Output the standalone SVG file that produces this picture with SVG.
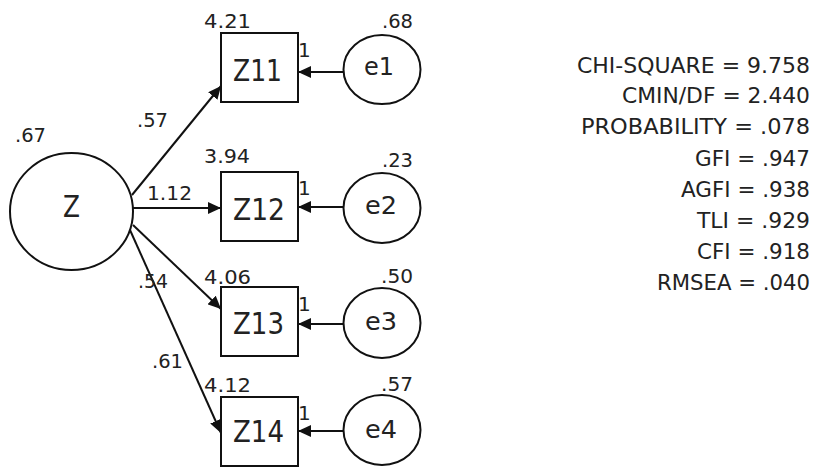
<svg xmlns="http://www.w3.org/2000/svg" width="820" height="467" viewBox="0 0 820 467">
<style>
  .shape { fill: #ffffff; stroke: #111111; stroke-width: 2; }
  .edge { fill: none; stroke: #111111; stroke-width: 2; }
  text { font-family: "DejaVu Sans", "Liberation Sans", sans-serif; fill: #222222; }
  .big { font-size: 31px; }
  .mid { font-size: 25px; }
  .sm { font-size: 20px; }
  .st { font-size: 21px; text-anchor: end; }
</style>
<defs>
  <marker id="arr" markerUnits="userSpaceOnUse" markerWidth="14" markerHeight="12" viewBox="0 0 14 12" refX="13" refY="6" orient="auto">
    <path d="M0,0 L13,6 L0,12 z" fill="#111111"/>
  </marker>
</defs>
<rect width="820" height="467" fill="#ffffff"/>

<g id="connectors">
  <line class="edge" x1="132" y1="195" x2="221" y2="86" marker-end="url(#arr)"/>
  <line class="edge" x1="133" y1="208" x2="221" y2="208" marker-end="url(#arr)"/>
  <line class="edge" x1="133" y1="225" x2="221" y2="309" marker-end="url(#arr)"/>
  <line class="edge" x1="130" y1="230" x2="221" y2="433" marker-end="url(#arr)"/>
  <line class="edge" x1="343" y1="72" x2="298" y2="72" marker-end="url(#arr)"/>
  <line class="edge" x1="343" y1="207" x2="298" y2="207" marker-end="url(#arr)"/>
  <line class="edge" x1="343" y1="324" x2="298" y2="324" marker-end="url(#arr)"/>
  <line class="edge" x1="343" y1="431" x2="298" y2="431" marker-end="url(#arr)"/>
  <text class="sm" x="137" y="127" textLength="31" lengthAdjust="spacingAndGlyphs">.57</text>
  <text class="sm" x="147" y="200" textLength="45" lengthAdjust="spacingAndGlyphs">1.12</text>
  <text class="sm" x="138" y="288" textLength="30" lengthAdjust="spacingAndGlyphs">.54</text>
  <text class="sm" x="152" y="368" textLength="31" lengthAdjust="spacingAndGlyphs">.61</text>
  <text class="sm" x="298" y="57">1</text>
  <text class="sm" x="298" y="195">1</text>
  <text class="sm" x="298" y="311">1</text>
  <text class="sm" x="298" y="420">1</text>
</g>

<g id="Z">
  <ellipse class="shape" cx="71.5" cy="211.5" rx="61.5" ry="58.5"/>
  <text class="big" x="63" y="217" textLength="17" lengthAdjust="spacingAndGlyphs">Z</text>
  <text class="sm" x="15" y="142" textLength="31" lengthAdjust="spacingAndGlyphs">.67</text>
</g>

<g id="Z11">
  <rect class="shape" x="221" y="33" width="77" height="69"/>
  <text class="big" x="233" y="81" textLength="49" lengthAdjust="spacingAndGlyphs">Z11</text>
  <text class="sm" x="204" y="28" textLength="47" lengthAdjust="spacingAndGlyphs">4.21</text>
</g>
<g id="Z12">
  <rect class="shape" x="221" y="172" width="77" height="69"/>
  <text class="big" x="233" y="220" textLength="52" lengthAdjust="spacingAndGlyphs">Z12</text>
  <text class="sm" x="204" y="163" textLength="46" lengthAdjust="spacingAndGlyphs">3.94</text>
</g>
<g id="Z13">
  <rect class="shape" x="221" y="287" width="77" height="69"/>
  <text class="big" x="233" y="334" textLength="51" lengthAdjust="spacingAndGlyphs">Z13</text>
  <text class="sm" x="204" y="284" textLength="47" lengthAdjust="spacingAndGlyphs">4.06</text>
</g>
<g id="Z14">
  <rect class="shape" x="221" y="397" width="77" height="69"/>
  <text class="big" x="233" y="442" textLength="51" lengthAdjust="spacingAndGlyphs">Z14</text>
  <text class="sm" x="204" y="392" textLength="47" lengthAdjust="spacingAndGlyphs">4.12</text>
</g>

<g id="e1">
  <ellipse class="shape" cx="382" cy="69.5" rx="38.5" ry="34.5"/>
  <text class="mid" x="364" y="75" textLength="30" lengthAdjust="spacingAndGlyphs">e1</text>
  <text class="sm" x="382" y="28" textLength="31" lengthAdjust="spacingAndGlyphs">.68</text>
</g>
<g id="e2">
  <ellipse class="shape" cx="382" cy="208" rx="38.5" ry="35"/>
  <text class="mid" x="365" y="214" textLength="32" lengthAdjust="spacingAndGlyphs">e2</text>
  <text class="sm" x="382" y="167" textLength="31" lengthAdjust="spacingAndGlyphs">.23</text>
</g>
<g id="e3">
  <ellipse class="shape" cx="382" cy="323" rx="38.5" ry="35"/>
  <text class="mid" x="365" y="330" textLength="32" lengthAdjust="spacingAndGlyphs">e3</text>
  <text class="sm" x="381" y="283" textLength="32" lengthAdjust="spacingAndGlyphs">.50</text>
</g>
<g id="e4">
  <ellipse class="shape" cx="382" cy="430" rx="38.5" ry="35"/>
  <text class="mid" x="365" y="438" textLength="32" lengthAdjust="spacingAndGlyphs">e4</text>
  <text class="sm" x="381" y="391" textLength="32" lengthAdjust="spacingAndGlyphs">.57</text>
</g>

<g id="fit-stats">
  <text class="st" x="810" y="73" textLength="233" lengthAdjust="spacingAndGlyphs">CHI-SQUARE = 9.758</text>
  <text class="st" x="810" y="103" textLength="188" lengthAdjust="spacingAndGlyphs">CMIN/DF = 2.440</text>
  <text class="st" x="810" y="134" textLength="229" lengthAdjust="spacingAndGlyphs">PROBABILITY = .078</text>
  <text class="st" x="810" y="166" textLength="115" lengthAdjust="spacingAndGlyphs">GFI = .947</text>
  <text class="st" x="810" y="197" textLength="129" lengthAdjust="spacingAndGlyphs">AGFI = .938</text>
  <text class="st" x="810" y="228" textLength="113" lengthAdjust="spacingAndGlyphs">TLI = .929</text>
  <text class="st" x="810" y="259" textLength="113" lengthAdjust="spacingAndGlyphs">CFI = .918</text>
  <text class="st" x="810" y="290" textLength="153" lengthAdjust="spacingAndGlyphs">RMSEA = .040</text>
</g>
</svg>
